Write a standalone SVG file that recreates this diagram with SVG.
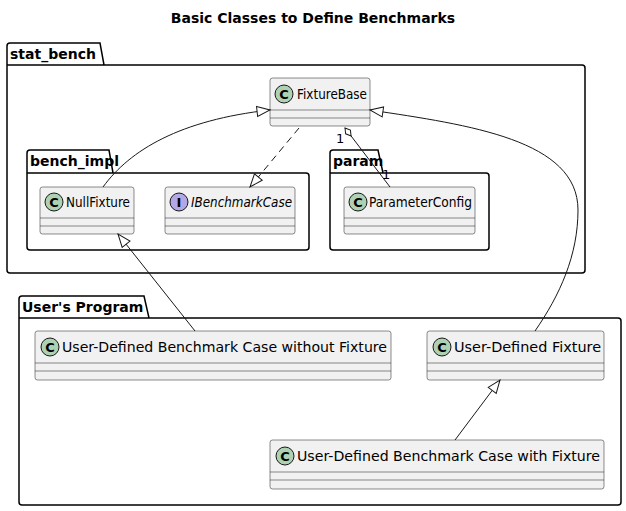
<svg xmlns="http://www.w3.org/2000/svg" width="626" height="511" viewBox="0 0 626 511">
<style>
text{font-family:"DejaVu Sans","Liberation Sans",sans-serif;fill:#000}
.pkg{fill:none;stroke:#000;stroke-width:1.5}
.pl{font-weight:bold;font-size:14px}
.cls{fill:#F1F1F1;stroke:#181818;stroke-width:0.5}
.sep{stroke:#181818;stroke-width:0.5}
.cn{font-size:14px}
.ci{fill:#ADD1B2;stroke:#181818;stroke-width:1}
.ii{fill:#B4A7E5;stroke:#181818;stroke-width:1}
.ed{fill:none;stroke:#181818;stroke-width:1}
</style>
<defs>
<marker id="tri" markerUnits="userSpaceOnUse" markerWidth="16" markerHeight="14" refX="14" refY="6" orient="auto-start-reverse" viewBox="0 0 16 12"><path d="M1,1 L14,6 L1,11 Z" fill="#fff" stroke="#181818" stroke-width="1"/></marker>
<marker id="dia" markerUnits="userSpaceOnUse" markerWidth="14" markerHeight="10" refX="1" refY="4" orient="auto" viewBox="0 0 14 8"><path d="M1,4 L6,1 L11,4 L6,7 Z" fill="#fff" stroke="#181818" stroke-width="1"/></marker>
</defs>
<text x="313" y="23" text-anchor="middle" style="font-weight:bold;font-size:14px">Basic Classes to Define Benchmarks</text>
<g id="stat_bench"><path class="pkg" d="M10,43 H100 L104,65 H582 Q585,65 585,68 V270 Q585,273 582,273 H10 Q7,273 7,270 V46 Q7,43 10,43 Z M7,65 H104"/><text class="pl" x="10" y="59">stat_bench</text></g>
<g id="bench_impl"><path class="pkg" d="M30,150 H109 L113,173 H306 Q309,173 309,176 V247 Q309,250 306,250 H30 Q27,250 27,247 V153 Q27,150 30,150 Z M27,173 H113"/><text class="pl" x="30" y="166">bench_impl</text></g>
<g id="param"><path class="pkg" d="M333,150 H378 L383,173 H486 Q489,173 489,176 V247 Q489,250 486,250 H333 Q330,250 330,247 V153 Q330,150 333,150 Z M330,173 H383"/><text class="pl" x="333" y="166">param</text></g>
<g id="users_program"><path class="pkg" d="M22,296 H144 L149,318 H618 Q621,318 621,321 V502 Q621,505 618,505 H22 Q19,505 19,502 V299 Q19,296 22,296 Z M19,318 H149"/><text class="pl" x="22" y="312">User's Program</text></g>
<g id="FixtureBase"><rect class="cls" x="270" y="78" width="100" height="48" rx="2.5"/><line class="sep" x1="270" y1="110" x2="370" y2="110"/><line class="sep" x1="270" y1="118" x2="370" y2="118"/><circle class="ci" cx="284" cy="94" r="9"/><text x="284" y="99" text-anchor="middle" style="font-weight:bold;font-size:13px">C</text><text class="cn" x="297" y="99" textLength="70" lengthAdjust="spacingAndGlyphs">FixtureBase</text></g>
<g id="NullFixture"><rect class="cls" x="40" y="187" width="94" height="47" rx="2.5"/><line class="sep" x1="40" y1="218" x2="134" y2="218"/><line class="sep" x1="40" y1="226" x2="134" y2="226"/><circle class="ci" cx="54" cy="202" r="9"/><text x="54" y="207" text-anchor="middle" style="font-weight:bold;font-size:13px">C</text><text class="cn" x="66" y="207" textLength="64" lengthAdjust="spacingAndGlyphs">NullFixture</text></g>
<g id="IBenchmarkCase"><rect class="cls" x="165" y="187" width="130" height="47" rx="2.5"/><line class="sep" x1="165" y1="218" x2="295" y2="218"/><line class="sep" x1="165" y1="226" x2="295" y2="226"/><circle class="ii" cx="179" cy="202" r="9"/><text x="179" y="207" text-anchor="middle" style="font-weight:bold;font-size:13px">I</text><text class="cn" x="191" y="207" font-style="italic" textLength="101" lengthAdjust="spacingAndGlyphs">IBenchmarkCase</text></g>
<g id="ParameterConfig"><rect class="cls" x="344" y="187" width="131" height="47" rx="2.5"/><line class="sep" x1="344" y1="218" x2="475" y2="218"/><line class="sep" x1="344" y1="226" x2="475" y2="226"/><circle class="ci" cx="358" cy="202" r="9"/><text x="358" y="207" text-anchor="middle" style="font-weight:bold;font-size:13px">C</text><text class="cn" x="369" y="207" textLength="103" lengthAdjust="spacingAndGlyphs">ParameterConfig</text></g>
<g id="UDCaseNoFixture"><rect class="cls" x="35" y="331" width="356" height="49" rx="2.5"/><line class="sep" x1="35" y1="363" x2="391" y2="363"/><line class="sep" x1="35" y1="371" x2="391" y2="371"/><circle class="ci" cx="50" cy="347" r="9"/><text x="50" y="352" text-anchor="middle" style="font-weight:bold;font-size:13px">C</text><text class="cn" x="62" y="352" textLength="325" lengthAdjust="spacingAndGlyphs">User-Defined Benchmark Case without Fixture</text></g>
<g id="UDFixture"><rect class="cls" x="427" y="331" width="177" height="49" rx="2.5"/><line class="sep" x1="427" y1="363" x2="604" y2="363"/><line class="sep" x1="427" y1="371" x2="604" y2="371"/><circle class="ci" cx="442" cy="347" r="9"/><text x="442" y="352" text-anchor="middle" style="font-weight:bold;font-size:13px">C</text><text class="cn" x="454" y="352" textLength="147" lengthAdjust="spacingAndGlyphs">User-Defined Fixture</text></g>
<g id="UDCaseWithFixture"><rect class="cls" x="270" y="440" width="334" height="49" rx="2.5"/><line class="sep" x1="270" y1="472" x2="604" y2="472"/><line class="sep" x1="270" y1="480" x2="604" y2="480"/><circle class="ci" cx="285" cy="456" r="9"/><text x="285" y="461" text-anchor="middle" style="font-weight:bold;font-size:13px">C</text><text class="cn" x="297" y="461" textLength="303" lengthAdjust="spacingAndGlyphs">User-Defined Benchmark Case with Fixture</text></g>
<g id="connectors">
<path class="ed" d="M103,187 C130,150 180,120 270,110" marker-end="url(#tri)"/>
<path class="ed" d="M299,128 L250,187" stroke-dasharray="7,5" marker-end="url(#tri)"/>
<path class="ed" d="M345,128 L390,187" marker-start="url(#dia)"/>
<text x="336" y="143" style="font-size:13px">1</text>
<text x="382" y="179" style="font-size:13px">1</text>
<path class="ed" d="M535,331 C560,295 578,255 578,210 C578,140 470,125 370,110" marker-end="url(#tri)"/>
<path class="ed" d="M195,331 L118,234" marker-end="url(#tri)"/>
<path class="ed" d="M455,440 L500,380" marker-end="url(#tri)"/>
</g>
</svg>
